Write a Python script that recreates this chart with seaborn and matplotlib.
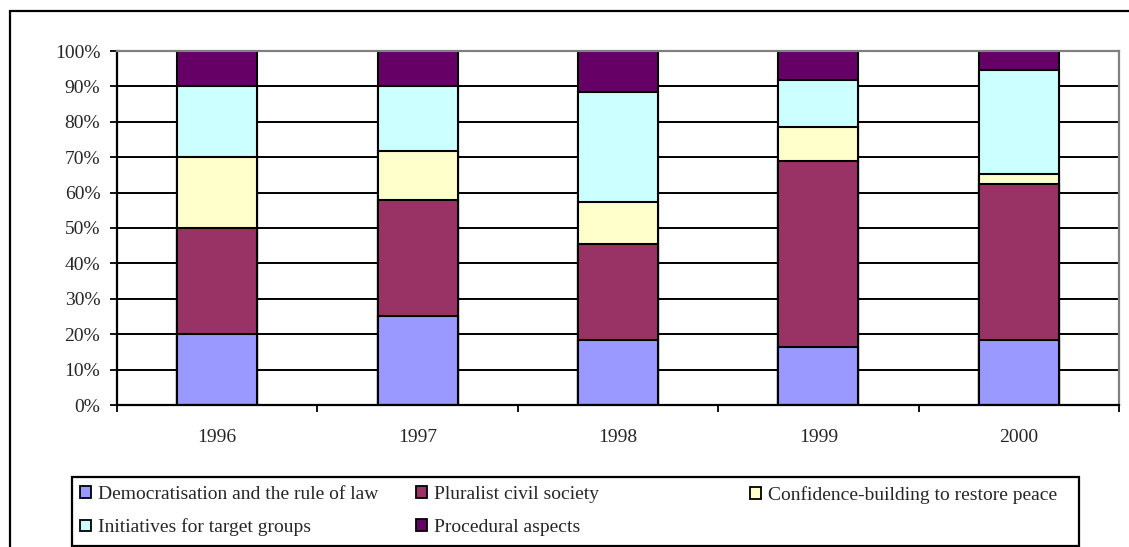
import seaborn as sns
import matplotlib.pyplot as plt
import matplotlib.ticker as mticker
from matplotlib.patches import Patch, Rectangle
import numpy as np
import pandas as pd

# Data (shares in % per year)
years = ['1996', '1997', '1998', '1999', '2000']
democratisation = [20.0, 25.2, 18.5, 16.3, 18.5]
pluralist = [30.0, 32.8, 27.1, 52.5, 44.0]
confidence = [20.0, 13.7, 11.7, 9.6, 2.8]
initiatives = [20.0, 18.4, 31.2, 13.5, 29.4]
procedural = [10.0, 9.9, 11.5, 8.1, 5.3]

series_names = ['Democratisation and the rule of law', 'Pluralist civil society',
                'Confidence-building to restore peace', 'Initiatives for target groups',
                'Procedural aspects']
series_colors = ['#9999FF', '#993366', '#FFFFCC', '#CCFFFF', '#660066']

df = pd.DataFrame({'year': years,
                   series_names[0]: democratisation,
                   series_names[1]: pluralist,
                   series_names[2]: confidence,
                   series_names[3]: initiatives,
                   series_names[4]: procedural})

# normalise to 100% and stack
vals = df[series_names].to_numpy()
vals = vals / vals.sum(axis=1, keepdims=True)
cum = np.cumsum(vals, axis=1)

sns.set_style('white')
plt.rcParams['font.family'] = ['Liberation Serif', 'DejaVu Serif']
plt.rcParams['font.size'] = 14

fig = plt.figure(figsize=(11.29, 5.47), dpi=100)
ax = fig.add_axes([117 / 1129, 1 - 405 / 547, 1002 / 1129, 354 / 547])

# draw cumulative bars from the top layer down so they overlap into a stack
for i in range(len(series_names) - 1, -1, -1):
    sns.barplot(x=df['year'], y=cum[:, i], color=series_colors[i], saturation=1,
                width=0.4, edgecolor='black', linewidth=1.5, ax=ax)

ax.set_xlim(-0.5, len(years) - 0.5)
ax.set_ylim(0, 1)
ax.set_xlabel('')
ax.set_ylabel('')

# y axis
ax.set_yticks(np.arange(0, 1.01, 0.1))
ax.yaxis.set_major_formatter(mticker.PercentFormatter(1.0, decimals=0))
ax.tick_params(axis='y', which='major', direction='out', length=5, width=1.3,
               color='black', pad=7, labelsize=14, left=True)

# x axis: ticks on category boundaries, labels on centres
ax.set_xticks(np.arange(-0.5, len(years), 1.0))
ax.set_xticklabels([])
ax.set_xticks(np.arange(len(years)), minor=True)
ax.set_xticklabels(years, minor=True)
ax.tick_params(axis='x', which='major', direction='out', length=5, width=1.3,
               color='black', bottom=True)
ax.tick_params(axis='x', which='minor', length=0, pad=17, labelsize=14)

# grid
ax.set_axisbelow(True)
ax.yaxis.grid(True, color='black', linewidth=1.4)
ax.xaxis.grid(False)
ax.get_ygridlines()[-1].set_visible(False)

for side in ['left', 'bottom']:
    ax.spines[side].set_color('black')
    ax.spines[side].set_linewidth(1.6)
for side in ['top', 'right']:
    ax.spines[side].set_color('#808080')
    ax.spines[side].set_linewidth(1.6)

# outer chart frame (only left and top are inside the image)
fig.add_artist(Rectangle((10 / 1129, -0.2), 1.2, (547 - 11) / 547 + 0.2,
                         transform=fig.transFigure, fill=False,
                         edgecolor='black', linewidth=1.6))

# legend box
fig.add_artist(Rectangle((72 / 1129, 1 / 547), 1007 / 1129, 69 / 547,
                         transform=fig.transFigure, fill=False,
                         edgecolor='black', linewidth=1.6))

handles = [Patch(facecolor=c, edgecolor='black', linewidth=1.3) for c in series_colors]
columns = [([0, 3], 80), ([1, 4], 416), ([2], 750)]
for idx, xpix in columns:
    fig.legend([handles[k] for k in idx], [series_names[k] for k in idx],
               loc='upper left', bbox_to_anchor=(xpix / 1129, (547 - 486) / 547),
               bbox_transform=fig.transFigure, frameon=False, fontsize=14,
               borderpad=0, borderaxespad=0, handlelength=0.55, handleheight=0.55,
               handletextpad=0.35, labelspacing=0.8)

fig.savefig('out.png', dpi=100)
